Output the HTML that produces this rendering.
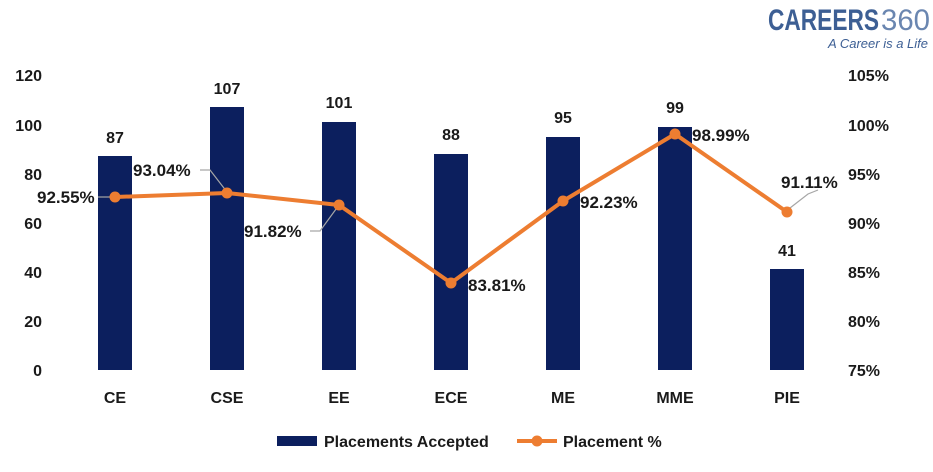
<!DOCTYPE html>
<html><head><style>body{margin:0;background:#fff}svg{display:block}text{font-family:"Liberation Sans",sans-serif;font-weight:bold;fill:#1a1a1a}</style></head><body>
<svg width="933" height="472" xmlns="http://www.w3.org/2000/svg">
<g font-size="16" text-anchor="end">
<text x="42" y="81">120</text><text x="42" y="131">100</text><text x="42" y="180">80</text><text x="42" y="229">60</text><text x="42" y="278">40</text><text x="42" y="327">20</text><text x="42" y="376">0</text>
</g>
<g font-size="16" text-anchor="start">
<text x="848" y="81">105%</text><text x="848" y="131">100%</text><text x="848" y="180">95%</text><text x="848" y="229">90%</text><text x="848" y="278">85%</text><text x="848" y="327">80%</text><text x="848" y="376">75%</text>
</g>
<g fill="#0c1f5e">
<rect x="98" y="156" width="34" height="214"/><rect x="210" y="107" width="34" height="263"/><rect x="322" y="122" width="34" height="248"/><rect x="434" y="154" width="34" height="216"/><rect x="546" y="137" width="34" height="233"/><rect x="658" y="127" width="34" height="243"/><rect x="770" y="269" width="34" height="101"/>
</g>
<g font-size="16" text-anchor="middle">
<text x="115" y="143">87</text><text x="227" y="94">107</text><text x="339" y="108">101</text><text x="451" y="140">88</text><text x="563" y="123">95</text><text x="675" y="113">99</text><text x="787" y="256">41</text>
<text x="115" y="403">CE</text><text x="227" y="403">CSE</text><text x="339" y="403">EE</text><text x="451" y="403">ECE</text><text x="563" y="403">ME</text><text x="675" y="403">MME</text><text x="787" y="403">PIE</text>
</g>
<g stroke="#a6a6a6" stroke-width="1.2" fill="none">
<polyline points="98,197 110,197"/><polyline points="200,170 210,170 227,192"/><polyline points="310,231 320,231 339,205"/><polyline points="790,208 808,194 818,190"/>
</g>
<polyline points="115,197 227,193 339,205 451,283 563,201 675,134 787,212" fill="none" stroke="#ed7d31" stroke-width="4" stroke-linejoin="round"/>
<g fill="#ed7d31"><circle cx="115" cy="197" r="5.5"/><circle cx="227" cy="193" r="5.5"/><circle cx="339" cy="205" r="5.5"/><circle cx="451" cy="283" r="5.5"/><circle cx="563" cy="201" r="5.5"/><circle cx="675" cy="134" r="5.5"/><circle cx="787" cy="212" r="5.5"/></g>
<g font-size="17">
<text x="37" y="203">92.55%</text><text x="133" y="176">93.04%</text><text x="244" y="237">91.82%</text><text x="468" y="291">83.81%</text><text x="580" y="208">92.23%</text><text x="692" y="141">98.99%</text><text x="781" y="188">91.11%</text>
</g>
<rect x="277" y="436" width="40" height="10" fill="#0c1f5e"/>
<text x="324" y="447" font-size="16">Placements Accepted</text>
<line x1="517" y1="441" x2="557" y2="441" stroke="#ed7d31" stroke-width="4"/><circle cx="537" cy="441" r="5.5" fill="#ed7d31"/>
<text x="563" y="447" font-size="16">Placement %</text>
<text x="768" y="30" font-size="30" textLength="111" lengthAdjust="spacingAndGlyphs" style="fill:#3d5f94;font-weight:900">CAREERS</text>
<text x="881" y="30" font-size="30" textLength="49" lengthAdjust="spacingAndGlyphs" style="fill:#6a86b0;font-weight:normal">360</text>
<text x="928" y="48" font-size="13" text-anchor="end" style="fill:#3d5f94;font-weight:normal;font-style:italic">A Career is a Life</text>
</svg>
</body></html>
